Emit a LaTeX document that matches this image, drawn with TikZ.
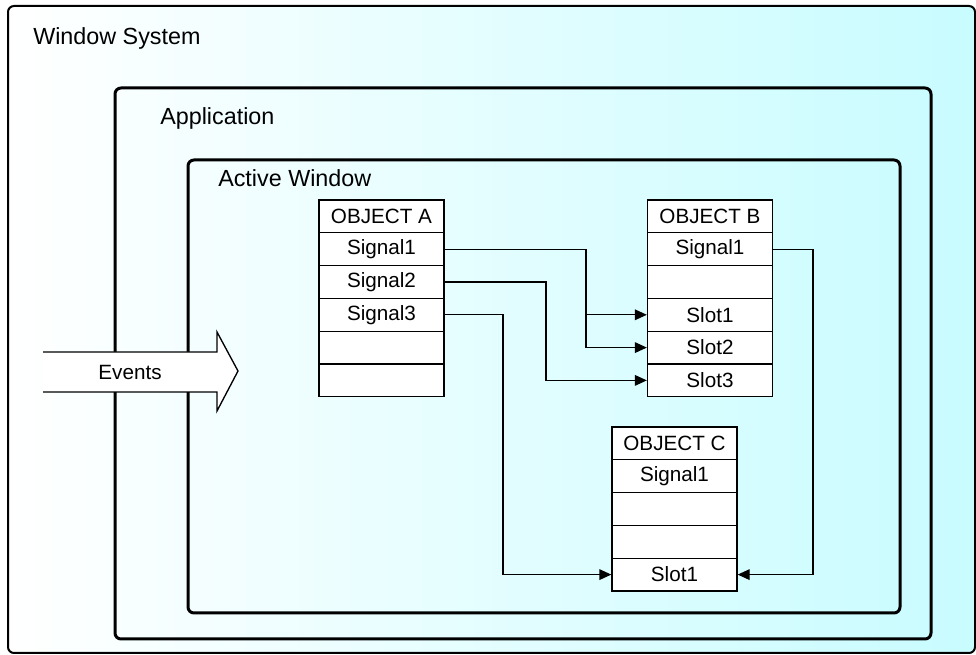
\documentclass[tikz,border=0pt]{standalone}
\usepackage{fontspec}
\setmainfont{Liberation Sans}
\usetikzlibrary{arrows.meta}
\definecolor{bgcyan}{RGB}{200,252,255}

\tikzset{
  frame/.style={draw=black, line width=2.25pt, rounded corners=4.5pt},
  cell/.style={draw=black, fill=white, line width=1pt, minimum width=93.75pt, minimum height=24.6pt, inner sep=0pt, font=\fontsize{15.5}{18}\selectfont},
  conn/.style={line width=1pt, -{Triangle[length=9pt,width=8pt]}},
  lbl/.style={anchor=base west, inner sep=0pt, font=\fontsize{17.5}{21}\selectfont}
}

\begin{document}
\begin{tikzpicture}[x=0.75pt,y=0.75pt,yscale=-1,xscale=1]
\useasboundingbox (0,0) rectangle (976,655);

%Window System frame
\shade [left color=white, right color=bgcyan, rounded corners=4.5pt] (8,6) rectangle (975,653);
\draw [line width=1.5pt, rounded corners=4.5pt] (8,6) rectangle (975,653);
%Application and Active Window frames
\draw [frame] (115,88) rectangle (931,639);
\draw [frame] (188,160) rectangle (900,613);

% Text Node
\node [lbl] (winsys) at (33,45) {Window System};
% Text Node
\node [lbl] (app) at (160,125) {Application};
% Text Node
\node [lbl] (actwin) at (218,187) {Active Window};

%Events arrow
\fill [white] (43,352) -- (217,352) -- (217,332) -- (238,371) -- (217,411) -- (217,392) -- (43,392) -- cycle;
\draw [line width=1pt] (43,352) -- (217,352) -- (217,332) -- (238,371) -- (217,411) -- (217,392) -- (43,392);
\node [inner sep=0pt, font=\fontsize{15.5}{18}\selectfont] (events) at (130,372) {Events};

%Objects
\foreach \i/\t in {0/OBJECT A,1/Signal1,2/Signal2,3/Signal3,4/,5/}
  \node [cell] (a\i) at (381.5,216.4+32.8*\i) {\t};
\foreach \i/\t in {0/OBJECT B,1/Signal1,2/,3/Slot1,4/Slot2,5/Slot3}
  \node [cell] (b\i) at (710,216.4+32.8*\i) {\t};
\foreach \i/\t in {0/OBJECT C,1/Signal1,2/,3/,4/Slot1}
  \node [cell] (c\i) at (674.5,443.4+32.8*\i) {\t};

%Connections
\coordinate (j1) at (586,0);
\coordinate (j2) at (546,0);
\coordinate (j3) at (503,0);
\coordinate (j4) at (813,0);
\draw [conn] (a1.east) -| (j1 |- b3.west) -- (b3.west);
\draw [conn] (j1 |- a1.east) |- (b4.west);
\draw [conn] (a2.east) -| (j2 |- b5.west) -- (b5.west);
\draw [conn] (a3.east) -| (j3 |- c4.west) -- (c4.west);
\draw [conn] (b1.east) -| (j4 |- c4.east) -- (c4.east);

\end{tikzpicture}
\end{document}
